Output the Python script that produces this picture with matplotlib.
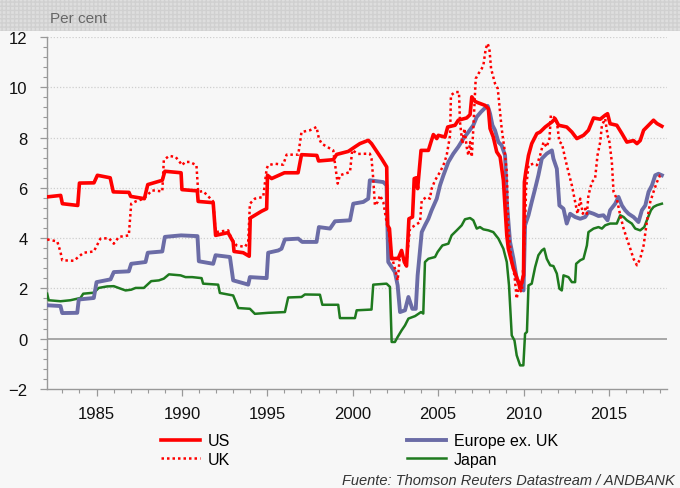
import matplotlib.pyplot as plt
from matplotlib.patches import Rectangle
from matplotlib.lines import Line2D
from matplotlib.ticker import MultipleLocator

plt.rcParams['font.family'] = ['Liberation Sans', 'DejaVu Sans']

# values (per cent)
us_years = [1982.1, 1982.9, 1983.0, 1983.9, 1984.0, 1984.85, 1985.05, 1985.8, 1985.98, 1986.9,
            1987.0, 1987.8, 1988.0, 1988.85, 1989.0, 1989.95, 1990.0, 1990.9, 1990.95, 1991.83,
            1991.97, 1992.7, 1993.0, 1993.05, 1993.59, 1993.94, 1994.0, 1994.66, 1994.96, 1995.01,
            1995.25, 1996.0, 1996.8, 1997.0, 1997.9, 1998.0, 1998.86, 1999.06, 1999.74, 2000.13,
            2000.42, 2000.91, 2001.1, 2001.69, 2001.99, 2002.04, 2002.15, 2002.28, 2002.67, 2002.86,
            2003.02, 2003.15, 2003.29, 2003.5, 2003.6, 2003.72, 2003.8, 2004.0, 2004.43, 2004.58,
            2004.72, 2004.92, 2005.01, 2005.4, 2005.56, 2005.99, 2006.18, 2006.67, 2006.87, 2006.97,
            2007.16, 2007.32, 2007.75, 2007.94, 2008.04, 2008.23, 2008.43, 2008.63, 2008.82, 2009.02,
            2009.11, 2009.41, 2009.7, 2009.8, 2009.9, 2010.0, 2010.05, 2010.13, 2010.29, 2010.48,
            2010.78, 2010.97, 2011.27, 2011.66, 2011.85, 2012.05, 2012.53, 2012.83, 2013.12, 2013.51,
            2013.8, 2014.1, 2014.49, 2014.78, 2014.92, 2015.07, 2015.46, 2015.76, 2016.05, 2016.44,
            2016.64, 2016.83, 2017.03, 2017.32, 2017.61, 2017.81, 2018.1]
us_vals = [5.64, 5.70, 5.37, 5.30, 6.19, 6.20, 6.50, 6.40, 5.84, 5.82,
           5.66, 5.57, 6.13, 6.30, 6.66, 6.60, 5.93, 5.88, 5.46, 5.41,
           4.11, 4.22, 3.85, 3.47, 3.42, 3.28, 4.80, 5.07, 5.17, 6.50,
           6.37, 6.60, 6.60, 7.32, 7.29, 7.07, 7.12, 7.33, 7.45, 7.63,
           7.76, 7.89, 7.76, 7.16, 6.83, 4.51, 4.38, 3.18, 3.20, 3.51,
           3.05, 2.89, 4.77, 4.84, 6.37, 6.40, 5.97, 7.49, 7.49, 7.82,
           8.12, 7.96, 8.09, 8.02, 8.42, 8.49, 8.69, 8.78, 8.91, 9.62,
           9.44, 9.39, 9.28, 9.15, 8.36, 8.02, 7.43, 7.23, 6.30, 4.11,
           3.58, 2.79, 2.25, 1.99, 2.25, 2.52, 6.23, 6.63, 7.29, 7.76,
           8.16, 8.22, 8.42, 8.62, 8.75, 8.49, 8.42, 8.22, 7.96, 8.09,
           8.29, 8.78, 8.73, 8.89, 8.95, 8.55, 8.49, 8.16, 7.82, 7.88,
           7.76, 7.88, 8.29, 8.49, 8.69, 8.56, 8.45]

uk_years = [1982.11, 1982.7, 1982.89, 1982.99, 1983.67, 1984.06, 1984.25, 1984.84, 1985.23, 1985.72,
            1986.01, 1986.31, 1986.89, 1987.03, 1987.29, 1987.77, 1988.16, 1988.26, 1988.85, 1988.94,
            1989.24, 1989.63, 1990.02, 1990.17, 1990.46, 1990.85, 1990.95, 1991.24, 1991.83, 1991.97,
            1992.71, 1992.9, 1993.2, 1993.69, 1993.88, 1993.98, 1994.27, 1994.76, 1994.96, 1995.05,
            1995.44, 1995.93, 1996.13, 1996.81, 1997.0, 1997.49, 1997.88, 1998.02, 1998.18, 1998.4,
            1998.86, 1999.0, 1999.12, 1999.25, 1999.84, 1999.97, 2000.3, 2001.0, 2001.1, 2001.2,
            2001.3, 2001.46, 2001.6, 2001.79, 2001.98, 2002.08, 2002.32, 2002.47, 2002.63, 2002.77,
            2002.96, 2003.16, 2003.35, 2003.65, 2003.94, 2004.04, 2004.33, 2004.52, 2004.62, 2004.82,
            2005.11, 2005.31, 2005.5, 2005.7, 2005.75, 2005.99, 2006.22, 2006.28, 2006.42, 2006.54,
            2006.67, 2006.77, 2006.87, 2006.97, 2007.06, 2007.2, 2007.36, 2007.55, 2007.65, 2007.79,
            2007.9, 2008.0, 2008.1, 2008.33, 2008.49, 2008.72, 2008.88, 2009.02, 2009.11, 2009.31,
            2009.47, 2009.6, 2009.7, 2009.9, 2010.0, 2010.08, 2010.15, 2010.29, 2010.58, 2010.78,
            2010.97, 2011.17, 2011.35, 2011.52, 2011.6, 2011.75, 2011.91, 2011.99, 2012.1, 2012.25,
            2012.44, 2012.63, 2012.83, 2013.02, 2013.16, 2013.32, 2013.47, 2013.61, 2013.71, 2013.8,
            2014.0, 2014.19, 2014.33, 2014.49, 2014.59, 2014.78, 2014.92, 2015.03, 2015.17, 2015.27,
            2015.46, 2015.66, 2015.86, 2016.05, 2016.25, 2016.44, 2016.64, 2016.83, 2017.03, 2017.22,
            2017.42, 2017.61, 2017.81, 2018.0, 2018.1]
uk_vals = [3.95, 3.87, 3.45, 3.12, 3.10, 3.32, 3.42, 3.47, 3.98, 4.00,
           3.78, 4.05, 4.11, 5.37, 5.46, 5.57, 5.84, 5.90, 5.86, 7.10,
           7.27, 7.23, 6.90, 7.03, 7.03, 6.90, 5.84, 5.87, 5.46, 4.24,
           4.31, 3.98, 3.71, 3.65, 3.85, 5.37, 5.57, 5.64, 6.76, 6.90,
           6.96, 6.92, 7.32, 7.32, 8.22, 8.29, 8.42, 7.96, 7.76, 7.67,
           7.49, 6.76, 6.17, 6.50, 6.63, 7.50, 7.35, 7.36, 7.16, 6.37,
           5.30, 5.44, 5.70, 5.44, 4.64, 4.38, 3.18, 2.79, 2.32, 3.32,
           3.18, 3.12, 4.38, 4.51, 4.64, 5.50, 5.64, 5.57, 5.97, 6.30,
           6.63, 6.90, 7.29, 8.09, 9.68, 9.81, 9.81, 8.62, 7.76, 8.36,
           7.63, 7.29, 7.82, 7.23, 8.36, 10.34, 10.54, 10.74, 10.88, 11.54,
           11.74, 11.54, 10.74, 10.15, 9.95, 8.36, 7.56, 6.63, 4.38, 3.05,
           2.52, 1.59, 1.99, 1.86, 3.05, 4.38, 5.97, 6.90, 6.96, 6.90,
           7.29, 7.82, 7.62, 7.96, 8.89, 8.82, 8.75, 8.42, 7.82, 7.76,
           7.16, 6.63, 6.10, 5.44, 4.97, 5.57, 4.97, 5.17, 4.97, 5.70,
           6.23, 6.37, 7.29, 7.82, 8.49, 8.75, 8.09, 7.82, 7.03, 5.84,
           5.57, 4.91, 4.38, 3.98, 3.58, 3.18, 2.92, 3.18, 3.71, 4.64,
           5.44, 5.84, 6.23, 6.50, 6.50]

eu_years = [1982.11, 1982.89, 1982.99, 1983.87, 1983.96, 1984.84, 1985.0, 1985.82, 1986.01, 1986.89,
            1987.03, 1987.87, 1988.0, 1988.85, 1989.0, 1989.95, 1990.91, 1990.99, 1991.83, 1991.97,
            1992.81, 1993.0, 1993.69, 1993.88, 1993.98, 1994.96, 1995.05, 1995.64, 1995.83, 1996.03,
            1996.81, 1997.04, 1997.88, 1998.02, 1998.67, 1998.96, 1999.84, 2000.03, 2000.62, 2000.91,
            2001.0, 2001.79, 2001.98, 2002.08, 2002.28, 2002.47, 2002.63, 2002.77, 2003.06, 2003.26,
            2003.49, 2003.69, 2003.8, 2004.04, 2004.23, 2004.43, 2004.62, 2004.92, 2005.11, 2005.31,
            2005.6, 2005.89, 2006.18, 2006.48, 2006.77, 2007.06, 2007.26, 2007.51, 2007.75, 2007.9,
            2008.04, 2008.18, 2008.33, 2008.53, 2008.72, 2008.92, 2009.02, 2009.21, 2009.41, 2009.6,
            2009.8, 2010.0, 2010.09, 2010.29, 2010.48, 2010.68, 2010.87, 2011.07, 2011.36, 2011.66,
            2011.75, 2011.95, 2012.1, 2012.34, 2012.53, 2012.73, 2013.02, 2013.32, 2013.61, 2013.8,
            2014.1, 2014.39, 2014.68, 2014.92, 2015.07, 2015.37, 2015.56, 2015.76, 2015.95, 2016.15,
            2016.44, 2016.73, 2016.93, 2017.13, 2017.32, 2017.52, 2017.71, 2017.9, 2018.1]
eu_vals = [1.33, 1.30, 1.02, 1.03, 1.56, 1.62, 2.25, 2.36, 2.65, 2.68,
           2.98, 3.05, 3.42, 3.47, 4.05, 4.11, 4.08, 3.08, 2.98, 3.32,
           3.25, 2.32, 2.19, 2.15, 2.45, 2.41, 3.42, 3.51, 3.58, 3.95,
           3.98, 3.85, 3.85, 4.44, 4.38, 4.67, 4.71, 5.37, 5.44, 5.57,
           6.30, 6.23, 6.10, 3.05, 2.85, 2.65, 2.12, 1.06, 1.13, 1.66,
           1.19, 1.19, 2.52, 4.24, 4.51, 4.77, 5.11, 5.57, 6.10, 6.50,
           7.03, 7.36, 7.63, 7.96, 8.22, 8.49, 8.82, 9.02, 9.18, 9.26,
           8.95, 8.49, 8.29, 7.82, 7.69, 7.29, 5.44, 3.85, 3.18, 2.39,
           2.12, 1.92, 4.51, 4.91, 5.44, 5.97, 6.50, 7.16, 7.36, 7.49,
           7.16, 6.76, 5.30, 5.17, 4.58, 4.97, 4.84, 4.77, 4.84, 5.04,
           4.97, 4.88, 4.91, 4.71, 5.11, 5.37, 5.64, 5.30, 5.11, 4.97,
           4.84, 4.64, 5.11, 5.30, 5.84, 6.10, 6.50, 6.56, 6.50]

jp_years = [1982.11, 1982.2, 1982.89, 1983.47, 1984.06, 1984.22, 1984.84, 1985.13, 1985.62, 1986.01,
            1986.41, 1986.7, 1987.03, 1987.29, 1987.77, 1988.2, 1988.65, 1988.94, 1989.24, 1989.92,
            1990.21, 1990.6, 1991.15, 1991.24, 1992.12, 1992.22, 1993.0, 1993.3, 1993.98, 1994.27,
            1995.05, 1996.03, 1996.22, 1997.0, 1997.2, 1998.08, 1998.22, 1999.15, 1999.25, 2000.13,
            2000.23, 2001.1, 2001.2, 2001.98, 2002.18, 2002.28, 2002.47, 2002.63, 2002.86, 2003.06,
            2003.26, 2003.65, 2004.0, 2004.13, 2004.23, 2004.43, 2004.82, 2004.97, 2005.25, 2005.6,
            2005.79, 2006.09, 2006.38, 2006.57, 2006.87, 2007.06, 2007.26, 2007.45, 2007.65, 2007.94,
            2008.23, 2008.53, 2008.82, 2009.02, 2009.15, 2009.31, 2009.47, 2009.6, 2009.8, 2009.99,
            2010.09, 2010.2, 2010.29, 2010.48, 2010.68, 2010.87, 2011.07, 2011.21, 2011.36, 2011.56,
            2011.75, 2011.95, 2012.1, 2012.24, 2012.34, 2012.63, 2012.83, 2013.02, 2013.08, 2013.32,
            2013.51, 2013.71, 2013.8, 2014.1, 2014.39, 2014.59, 2014.78, 2015.07, 2015.46, 2015.66,
            2015.86, 2016.05, 2016.34, 2016.54, 2016.83, 2017.07, 2017.22, 2017.46, 2017.61, 2017.81,
            2018.1]
jp_vals = [1.79, 1.53, 1.49, 1.53, 1.62, 1.79, 1.83, 2.02, 2.08, 2.09,
           1.99, 1.92, 1.95, 2.02, 2.02, 2.29, 2.32, 2.39, 2.56, 2.52,
           2.45, 2.45, 2.41, 2.19, 2.15, 1.82, 1.72, 1.22, 1.19, 0.99,
           1.03, 1.06, 1.64, 1.66, 1.76, 1.75, 1.35, 1.35, 0.82, 0.82,
           1.13, 1.16, 2.15, 2.19, 2.06, -0.13, -0.13, 0.07, 0.33, 0.53,
           0.80, 0.90, 1.06, 1.00, 3.05, 3.18, 3.25, 3.45, 3.71, 3.78,
           4.11, 4.31, 4.51, 4.75, 4.80, 4.71, 4.38, 4.44, 4.35, 4.31,
           4.24, 3.98, 3.58, 3.05, 2.12, 0.13, -0.07, -0.66, -1.06, -1.06,
           0.20, 0.27, 2.12, 2.19, 2.85, 3.32, 3.51, 3.58, 3.18, 2.92,
           2.89, 2.59, 1.99, 1.92, 2.52, 2.45, 2.25, 2.25, 2.98, 3.12,
           3.18, 3.71, 4.24, 4.38, 4.44, 4.38, 4.51, 4.58, 4.58, 4.91,
           4.84, 4.71, 4.58, 4.38, 4.31, 4.44, 4.71, 5.11, 5.24, 5.31,
           5.37]

bg = '#f7f7f7'
red = '#ff0000'
slate = '#6b6ca6'
green = '#1f7a1f'

fig = plt.figure(figsize=(6.8, 4.89), dpi=100, facecolor=bg)
ax = fig.add_axes([47/680, 1 - 390/489, 620/680, 352/489])
ax.set_facecolor(bg)

# header band (title area, cut off in the original)
fig.patches.append(Rectangle((0, 1 - 32/489), 1, 32/489, transform=fig.transFigure,
                             facecolor='#dedede', edgecolor='#d0d0d0', hatch='++++',
                             linewidth=0, zorder=0))
fig.text(50/680, 1 - 19/489, 'Per cent', fontsize=11, color='#666666', va='center')

for yv in range(2, 13, 2):
    ax.axhline(yv, color='#cfcfcf', lw=0.9, ls=(0, (1, 1.5)), zorder=1)
ax.axhline(0, color='#9a9a9a', lw=1.2, zorder=1)

ax.plot(jp_years, jp_vals, color=green, lw=1.8, zorder=3)
ax.plot(eu_years, eu_vals, color=slate, lw=2.8, zorder=4)
ax.plot(uk_years, uk_vals, color=red, lw=1.8, ls=(0, (1, 1.2)), zorder=5)
ax.plot(us_years, us_vals, color=red, lw=2.6, zorder=6)

ax.set_xlim(1982.1, 2018.4)
ax.set_ylim(-2, 12)
ax.set_yticks(range(-2, 13, 2))
ax.yaxis.set_minor_locator(MultipleLocator(0.4))
ax.set_xticks(range(1985, 2016, 5))
ax.xaxis.set_minor_locator(MultipleLocator(1))

for s in ['top', 'right']:
    ax.spines[s].set_visible(False)
for s in ['left', 'bottom']:
    ax.spines[s].set_color('#999999')
    ax.spines[s].set_linewidth(1.0)

ax.tick_params(axis='both', which='major', labelsize=12, colors='#999999',
               labelcolor='#111111', length=5, width=0.9)
ax.tick_params(axis='both', which='minor', colors='#999999', length=3, width=0.8)
ax.tick_params(axis='y', pad=9)
ax.tick_params(axis='x', pad=7)

h1 = [Line2D([], [], color=red, lw=2.6), Line2D([], [], color=red, lw=1.8, ls=(0, (1, 1.2)))]
h2 = [Line2D([], [], color=slate, lw=2.8), Line2D([], [], color=green, lw=1.8)]
fig.legend(h1, ['US', 'UK'], loc='upper left', bbox_to_anchor=(147/680, 1 - 420/489),
           frameon=False, fontsize=11.5, handlelength=2.4, handletextpad=0.5, labelspacing=0.2)
fig.legend(h2, ['Europe ex. UK', 'Japan'], loc='upper left', bbox_to_anchor=(393/680, 1 - 420/489),
           frameon=False, fontsize=11.5, handlelength=2.4, handletextpad=0.5, labelspacing=0.2)

fig.text(675/680, 1 - 481/489, 'Fuente: Thomson Reuters Datastream / ANDBANK',
         fontsize=10.5, style='italic', color='#333333', ha='right', va='center')

fig.savefig('out.png', dpi=100, facecolor=bg)
